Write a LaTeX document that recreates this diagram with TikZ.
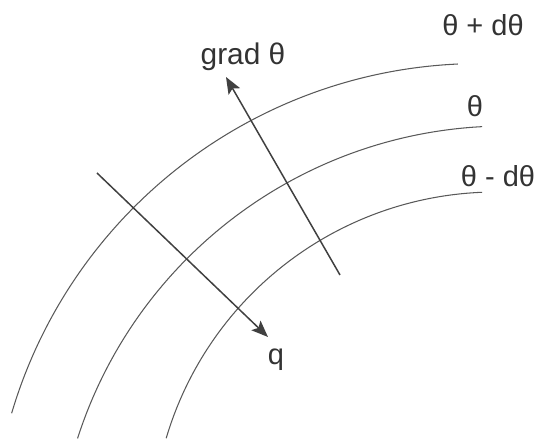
\documentclass[tikz,border=0pt]{standalone}
\usepackage{fontspec}
\setmainfont{Liberation Sans}
\usetikzlibrary{arrows.meta}

\begin{document}
\begin{tikzpicture}[x=0.02cm, y=0.02cm,
          isoline/.style={black!65, line width=0.6pt},
          vec/.style={-{Stealth[length=9.5pt,width=7.5pt,inset=2pt]}, black!75, line width=0.85pt},
          lbl/.style={anchor=base, text=black!80, font=\fontsize{16.5}{19}\selectfont}]
        \useasboundingbox (0,0) rectangle (539,439);
        % isotherms
        \draw[isoline] (480,-113) ++(163.5:488.5) arc[start angle=163.5, end angle=92.6, radius=488.5];
        \draw[isoline] (506,-137) ++(162.2:450) arc[start angle=162.2, end angle=93.05, radius=450];
        \draw[isoline] (496,-97) ++(163.5:344) arc[start angle=163.5, end angle=92.3, radius=344];
        \node[lbl] (tplus)  at (483,403) {θ + dθ};
        \node[lbl] (tmid)   at (475,322) {θ};
        \node[lbl] (tminus) at (498,252) {θ - dθ};
        % gradient and flux
        \coordinate (gradfoot) at (340,164);
        \coordinate (gradtip)  at (226,362);
        \coordinate (qfoot)    at (97,266);
        \coordinate (qtip)     at (268,102);
        \draw[vec] (gradfoot) -- (gradtip);
        \draw[vec] (qfoot) -- (qtip);
        \node[lbl, font=\fontsize{17}{20}\selectfont] (grad) at (243,374) {grad θ};
        \node[lbl] (q) at (276,74) {q};
      \end{tikzpicture}
\end{document}
